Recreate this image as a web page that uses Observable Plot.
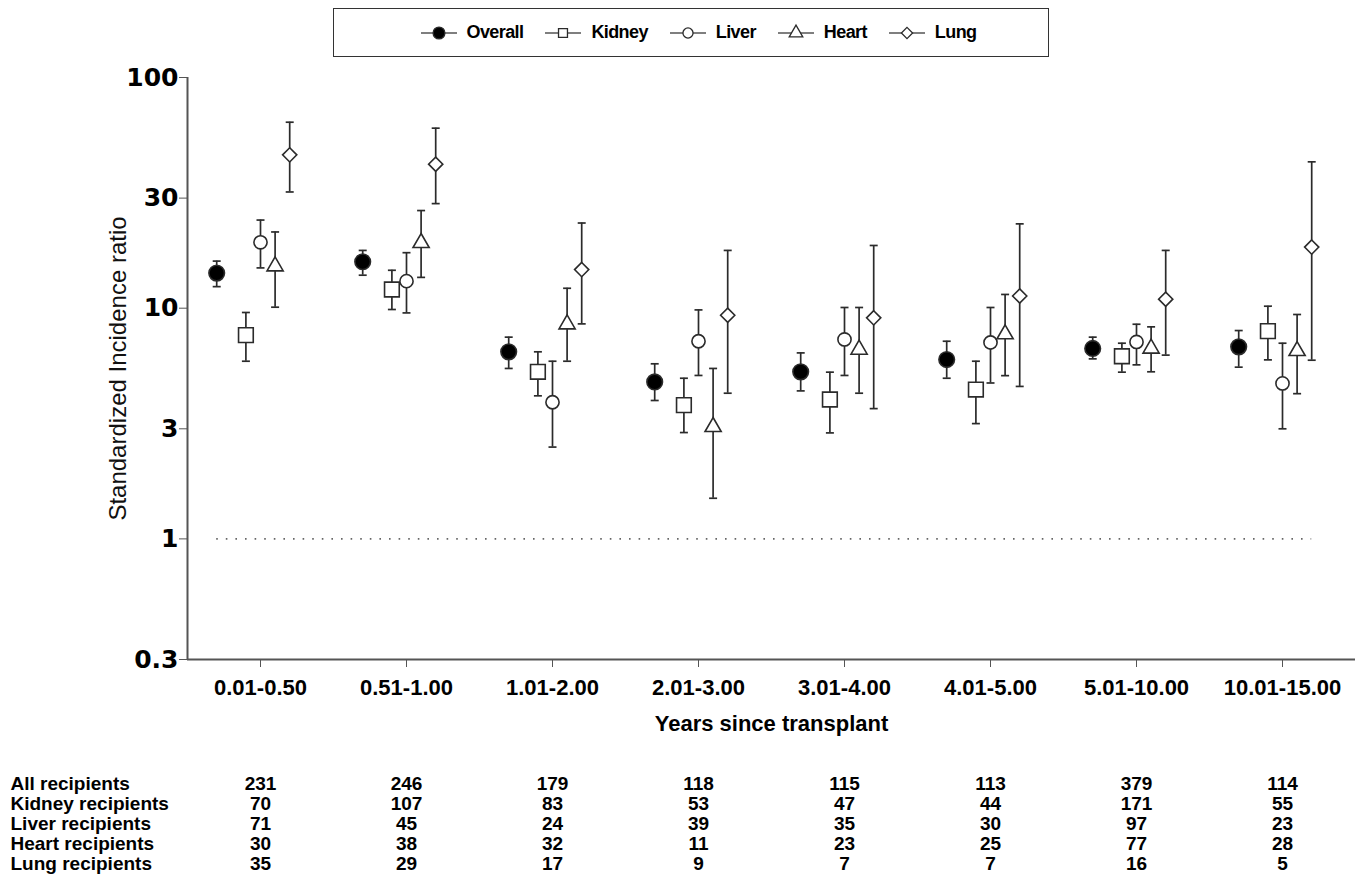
<!DOCTYPE html>
<html>
<head>
<meta charset="utf-8">
<script src="https://cdn.jsdelivr.net/npm/d3@7"></script>
<script src="https://cdn.jsdelivr.net/npm/@observablehq/plot@0.6"></script>
<style>
  html, body { margin: 0; padding: 0; background: #fff; }
  #wrap { position: relative; width: 1365px; height: 896px; overflow: hidden; font-family: "Liberation Sans", Arial, sans-serif; }
  #chart { position: absolute; left: 0; top: 0; }
  #table { position: absolute; left: 0; top: 770px; }
  #legend { position: absolute; left: 333px; top: 8px; width: 716px; height: 49px; box-sizing: border-box;
            border: 1.3px solid #333; display: flex; align-items: center; justify-content: center; gap: 21px; padding-left: 14px; }
  .item { display: flex; align-items: center; gap: 9px; font-weight: bold; font-size: 18px; letter-spacing: -0.6px; color: #000; }
</style>
</head>
<body>
<div id="wrap">
  <div id="chart"></div>
  <div id="legend"></div>
  <div id="table"></div>
</div>
<script>
// ---------------- data ----------------
const periods = ["0.01-0.50", "0.51-1.00", "1.01-2.00", "2.01-3.00", "3.01-4.00", "4.01-5.00", "5.01-10.00", "10.01-15.00"];
const organs = ["Overall", "Kidney", "Liver", "Heart", "Lung"];

const sirOverall  = [14.2, 15.9, 6.47, 4.79, 5.30, 5.99, 6.69, 6.80];
const lowOverall  = [12.4, 13.9, 5.48, 3.98, 4.38, 4.97, 6.03, 5.55];
const highOverall = [16.0, 17.8, 7.49, 5.74, 6.40, 7.19, 7.49, 8.00];

const sirKidney  = [7.64, 12.05, 5.30, 3.80, 4.02, 4.44, 6.19, 7.95];
const lowKidney  = [5.89, 9.87, 4.17, 2.89, 2.88, 3.16, 5.28, 5.97];
const highKidney = [9.58, 14.6, 6.47, 4.97, 5.28, 5.89, 7.05, 10.2];

const sirLiver  = [19.3, 13.1, 3.91, 7.19, 7.32, 7.10, 7.14, 4.72];
const lowLiver  = [14.95, 9.54, 2.50, 5.11, 5.11, 4.74, 5.68, 3.00];
const highLiver = [24.1, 17.4, 5.89, 9.83, 10.07, 10.07, 8.52, 7.05];

const sirHeart  = [15.2, 19.2, 8.52, 3.06, 6.62, 7.72, 6.69, 6.53];
const lowHeart  = [10.1, 13.6, 5.89, 1.50, 4.28, 5.10, 5.30, 4.26];
const highHeart = [21.4, 26.5, 12.2, 5.48, 10.07, 11.47, 8.30, 9.39];

const sirLung  = [46.2, 42.1, 14.7, 9.32, 9.08, 11.3, 10.94, 18.4];
const lowLung  = [31.9, 28.4, 8.55, 4.28, 3.67, 4.58, 6.26, 5.95];
const highLung = [64.0, 60.3, 23.4, 17.8, 18.7, 23.2, 17.8, 43.1];

const rowLabels = ["All recipients", "Kidney recipients", "Liver recipients", "Heart recipients", "Lung recipients"];
const nAll    = [231, 246, 179, 118, 115, 113, 379, 114];
const nKidney = [70, 107, 83, 53, 47, 44, 171, 55];
const nLiver  = [71, 45, 24, 39, 35, 30, 97, 23];
const nHeart  = [30, 38, 32, 11, 23, 25, 77, 28];
const nLung   = [35, 29, 17, 9, 7, 7, 16, 5];

const yTicks = [0.3, 1, 3, 10, 30, 100];

// ---------------- build rows ----------------
const series = {
  Overall: [sirOverall, lowOverall, highOverall],
  Kidney: [sirKidney, lowKidney, highKidney],
  Liver: [sirLiver, lowLiver, highLiver],
  Heart: [sirHeart, lowHeart, highHeart],
  Lung: [sirLung, lowLung, highLung]
};
// layout: horizontal dodge within a period (in band units)
const dodge = {Overall: -0.3, Kidney: -0.1, Liver: 0, Heart: 0.1, Lung: 0.2};
const symbolOf = {Overall: "circle", Kidney: "square", Liver: "circle", Heart: "triangle", Lung: "diamond2"};
const fillOf = {Overall: "black", Kidney: "white", Liver: "white", Heart: "white", Lung: "white"};
const rOf = {Overall: 7.8, Kidney: 8.3, Liver: 6.6, Heart: 6.0, Lung: 6.4};

const rows = [];
periods.forEach((p, i) => {
  organs.forEach(o => {
    const [s, lo, hi] = series[o];
    rows.push({period: p, i, organ: o, x: i + dodge[o], sir: s[i], lo: lo[i], hi: hi[i]});
  });
});

const xDomain = [-0.5, periods.length - 0.5];
const capHalf = 4;
const cap = {draw(ctx) { ctx.moveTo(-capHalf, 0); ctx.lineTo(capHalf, 0); }};
const ink = "#2b2b2b";
const font = "'Liberation Sans', Arial, sans-serif";

const chart = Plot.plot({
  width: 1365,
  height: 760,
  marginLeft: 187,
  marginRight: 10,
  marginTop: 77,
  marginBottom: 101,
  style: {background: "transparent", color: "#000", fontFamily: font},
  x: {domain: xDomain, axis: null},
  y: {type: "log", domain: [0.3, 100], axis: null},
  color: {type: "identity"},
  r: {type: "identity"},
  marks: [
    // reference line at SIR = 1
    Plot.ruleY([1], {x1: d3.min(rows, d => d.x), x2: d3.max(rows, d => d.x), stroke: "#666", strokeWidth: 1.6, strokeDasharray: "1.6,8"}),
    // axes
    Plot.ruleX([xDomain[0]], {stroke: "#555", strokeWidth: 2}),
    Plot.ruleY([0.3], {stroke: "#555", strokeWidth: 2}),
    Plot.axisY({ticks: yTicks, tickFormat: d => String(d), tickSize: 8, tickPadding: 1, stroke: "#555",
      fontSize: 25, fontWeight: "bold", fontFamily: "DejaVu Sans", label: null}),
    Plot.axisX({ticks: d3.range(periods.length), tickFormat: i => periods[i], tickSize: 8, tickPadding: 12, stroke: "#555",
      fontSize: 22, fontWeight: "bold", label: null}),
    Plot.text(["Standardized Incidence ratio"], {frameAnchor: "left", textAnchor: "middle", dx: -69, rotate: -90, fontSize: 24, fill: "#111"}),
    Plot.text(["Years since transplant"], {frameAnchor: "bottom", dy: 71, fontSize: 22, fontWeight: "bold", fill: "#000"}),
    // error bars
    Plot.ruleX(rows, {x: "x", y1: "lo", y2: "hi", stroke: ink, strokeWidth: 1.7}),
    Plot.dot(rows, {x: "x", y: "lo", symbol: cap, r: 3, stroke: ink, strokeWidth: 1.7}),
    Plot.dot(rows, {x: "x", y: "hi", symbol: cap, r: 3, stroke: ink, strokeWidth: 1.7}),
    // points
    Plot.dot(rows, {x: "x", y: "sir", symbol: d => symbolOf[d.organ], r: d => rOf[d.organ],
      fill: d => fillOf[d.organ], stroke: ink, strokeWidth: 1.6})
  ]
});
document.getElementById("chart").appendChild(chart);

// ---------------- counts table ----------------
const counts = [nAll, nKidney, nLiver, nHeart, nLung];
const tableRows = [];
rowLabels.forEach((lab, r) => counts[r].forEach((n, i) => tableRows.push({row: lab, i, n})));

const table = Plot.plot({
  width: 1365,
  height: 110,
  marginLeft: 187,
  marginRight: 10,
  marginTop: 3,
  marginBottom: 7,
  style: {background: "transparent", color: "#000", fontFamily: font},
  x: {domain: xDomain, axis: null},
  y: {type: "point", domain: rowLabels, axis: null, padding: 0.5},
  marks: [
    Plot.text(tableRows, {x: "i", y: "row", text: d => String(d.n), fontSize: 19, fontWeight: "bold", fill: "#000"}),
    Plot.text(rowLabels, {y: d => d, frameAnchor: "left", textAnchor: "start", dx: -177, fontSize: 19, fontWeight: "bold", fill: "#000", letterSpacing: "-0.3px"})
  ]
});
document.getElementById("table").appendChild(table);

// ---------------- legend ----------------
const legend = document.getElementById("legend");
const typeMap = {circle: d3.symbolCircle, square: d3.symbolSquare, triangle: d3.symbolTriangle, diamond2: d3.symbolDiamond2};
organs.forEach(o => {
  const item = document.createElement("div");
  item.className = "item";
  const sym = d3.create("svg").attr("width", 38).attr("height", 20);
  sym.append("line").attr("x1", 1).attr("x2", 37).attr("y1", 10).attr("y2", 10).attr("stroke", "#555").attr("stroke-width", 1.6);
  const size = o === "Overall" ? 110 : 80;
  sym.append("path").attr("transform", "translate(19,10)")
    .attr("d", d3.symbol(typeMap[symbolOf[o]], size)())
    .attr("fill", fillOf[o]).attr("stroke", ink).attr("stroke-width", 1.3);
  item.appendChild(sym.node());
  const t = document.createElement("span");
  t.textContent = o;
  item.appendChild(t);
  legend.appendChild(item);
});
</script>
</body>
</html>
